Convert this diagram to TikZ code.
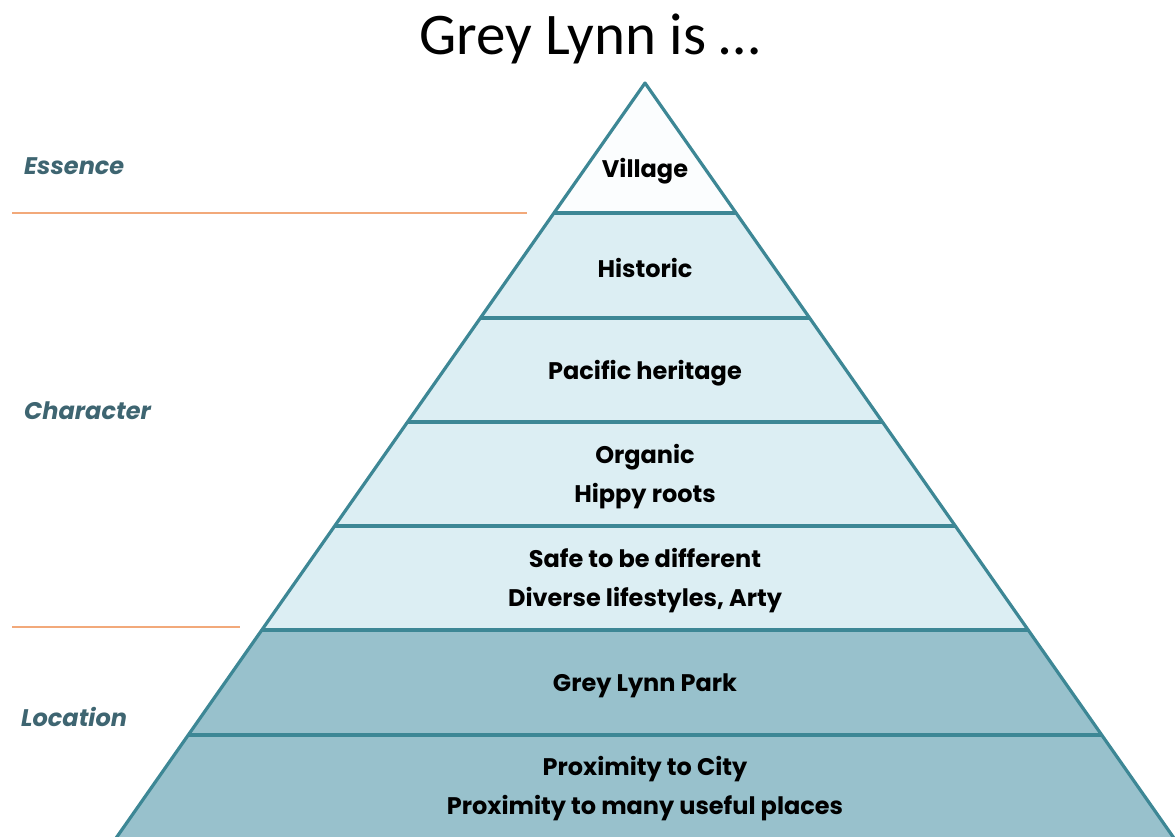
\documentclass[tikz,border=0pt]{standalone}
\usepackage{fontspec}
\setmainfont{Poppins}
\newfontfamily\titlefont{Carlito}
\definecolor{edge}{HTML}{3D8795}
\definecolor{topfill}{HTML}{FBFDFE}
\definecolor{midfill}{HTML}{DCEEF3}
\definecolor{lowfill}{HTML}{98C1CC}
\definecolor{labcol}{HTML}{3E6571}
\definecolor{sep}{HTML}{F2A97A}
\begin{document}
\begin{tikzpicture}[x=1pt,y=-1pt,
  layer/.style={draw=edge,line width=3.2pt,line join=round},
  lbl/.style={font=\fontsize{24}{39}\selectfont\bfseries,text=black,align=center,inner sep=0pt},
  side/.style={font=\fontsize{24}{28}\selectfont\itshape\bfseries,text=labcol,anchor=west,inner sep=0pt},
  sepline/.style={draw=sep,line width=1.6pt}]
\useasboundingbox (0,0) rectangle (1175,836);
\begin{scope}
\clip (0,0) rectangle (1175,836);
\coordinate (A) at (645,83);
\coordinate (L1) at (554,213) ; \coordinate (R1) at (736,213);
\coordinate (L2) at (480.5,318); \coordinate (R2) at (809.5,318);
\coordinate (L3) at (407.7,422); \coordinate (R3) at (882.3,422);
\coordinate (L4) at (334.9,526); \coordinate (R4) at (955.1,526);
\coordinate (L5) at (262.1,630); \coordinate (R5) at (1027.9,630);
\coordinate (L6) at (188.6,735); \coordinate (R6) at (1101.4,735);
\coordinate (L8) at (100,861); \coordinate (R8) at (1190,861);
\path[fill=topfill] (A) -- (R1) -- (L1) -- cycle;
\path[fill=midfill] (L1) -- (R1) -- (R5) -- (L5) -- cycle;
\path[fill=lowfill] (L5) -- (R5) -- (R8) -- (L8) -- cycle;
\draw[layer] (L8) -- (A) -- (R8);
\draw[layer] (L1) -- (R1);
\draw[layer] (L2) -- (R2);
\draw[layer] (L3) -- (R3);
\draw[layer] (L4) -- (R4);
\draw[layer] (L5) -- (R5);
\draw[layer] (L6) -- (R6);
\end{scope}
\node[font=\titlefont\fontsize{59}{70}\selectfont,inner sep=0pt] (title) at (590,39) {Grey Lynn is …};
\node[lbl] (village) at (645,171) {Village};
\node[lbl] (historic) at (645,268) {Historic};
\node[lbl] (pacific) at (645,373) {Pacific heritage};
\node[lbl] (organic) at (645,477) {Organic\\Hippy roots};
\node[lbl] (safe) at (645,581) {Safe to be different\\Diverse lifestyles, Arty};
\node[lbl] (park) at (645,686) {Grey Lynn Park};
\node[lbl] (prox) at (645,789) {Proximity to City\\Proximity to many useful places};
\node[side] (essence) at (24,166) {Essence};
\node[side] (character) at (24,411) {Character};
\node[side] (location) at (21,717) {Location};
\coordinate (s1a) at (12,213); \coordinate (s1b) at (527,213);
\coordinate (s2a) at (12,627); \coordinate (s2b) at (240,627);
\draw[sepline] (s1a) -- (s1b);
\draw[sepline] (s2a) -- (s2b);
\end{tikzpicture}
\end{document}
